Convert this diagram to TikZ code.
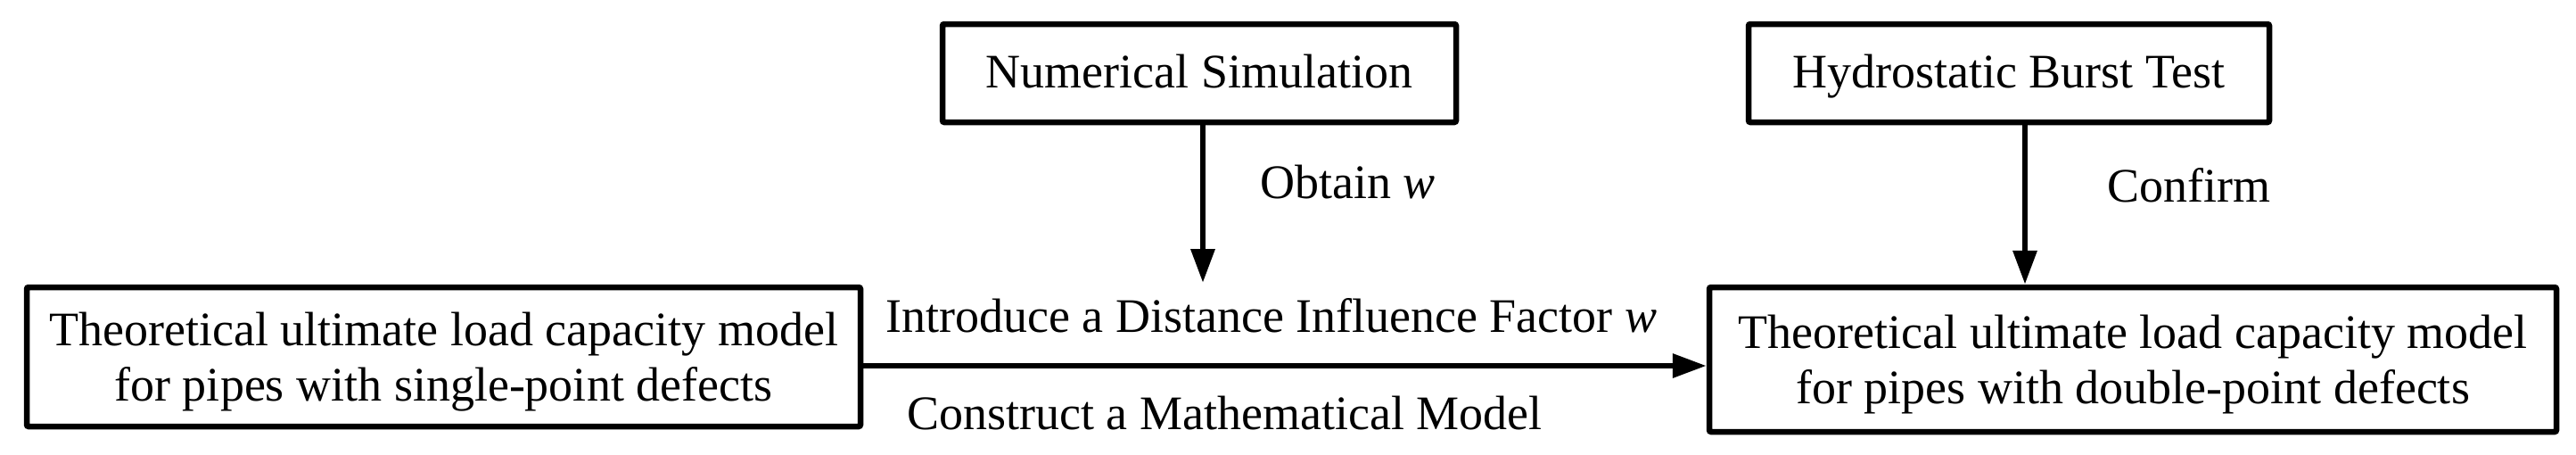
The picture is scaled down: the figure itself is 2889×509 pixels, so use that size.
\documentclass[tikz,border=0pt]{standalone}
\usepackage{fontspec}
\setmainfont{Liberation Serif}
\usetikzlibrary{arrows.meta}
\begin{document}
\begin{tikzpicture}[x=1pt,y=-1pt,
  box/.style={draw, line width=6.5pt, rounded corners=2pt, inner sep=0pt, align=center,
    font=\fontsize{54pt}{62pt}\selectfont},
  topbox/.style={box, minimum height=110pt, text height=44pt, text depth=12pt},
  lbl/.style={inner sep=0pt, anchor=base west, font=\fontsize{54pt}{62pt}\selectfont},
  arr/.style={line width=6.5pt, -{Triangle[length=38pt,width=26pt]}}]
\useasboundingbox (0,0) rectangle (2889,509);
\node[box, minimum width=935pt, minimum height=156pt] (lb) at (497.5,400)
  {\rule{0pt}{47.7pt}Theoretical ultimate load capacity model\\for pipes with single-point defects};
\node[box, minimum width=950pt, minimum height=162pt] (rb) at (2392,403)
  {\rule{0pt}{47.7pt}Theoretical ultimate load capacity model\\for pipes with double-point defects};
\node[topbox, minimum width=576pt] (ns) at (1345,82) {Numerical Simulation};
\node[topbox, minimum width=584pt] (hb) at (2253,82) {Hydrostatic Burst Test};
\node[lbl] (ob) at (1413,222) {Obtain \textit{w}};
\node[lbl] (cf) at (2363,226) {Confirm};
\node[lbl] (in) at (993,372) {Introduce a Distance Influence Factor \textit{w}};
\node[lbl] (cm) at (1017,481) {Construct a Mathematical Model};
\coordinate (nsend) at (1349,317);
\draw[arr] (ns.south -| nsend) -- (nsend);
\draw[arr] (hb.south -| 2271,0) -- (rb.north -| 2271,0);
\draw[arr] (lb.east |- 0,410) -- (rb.west |- 0,410);
\end{tikzpicture}
\end{document}
